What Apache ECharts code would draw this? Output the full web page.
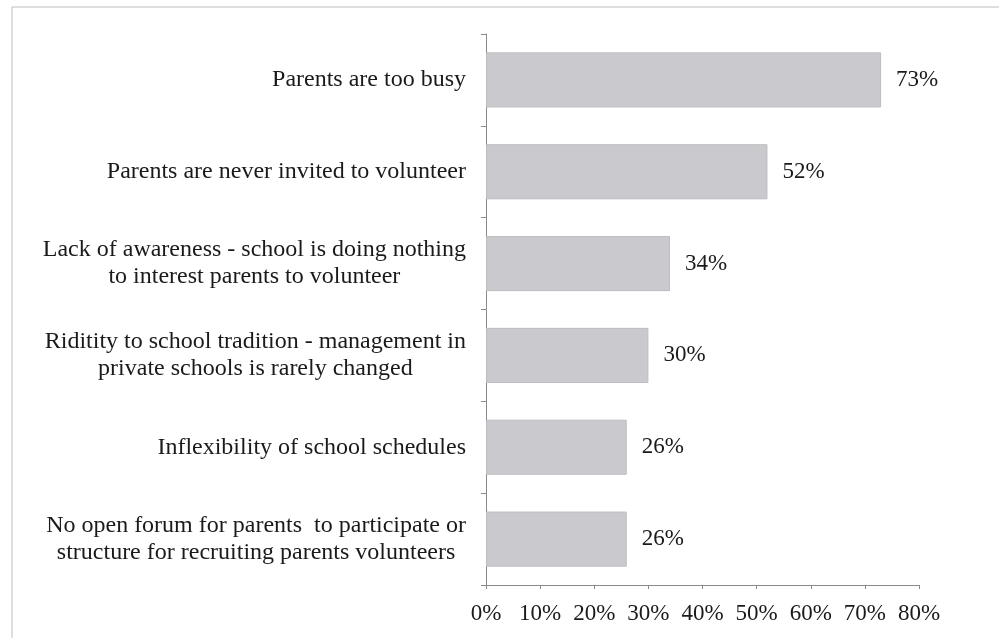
<!DOCTYPE html>
<html>
<head>
<meta charset="utf-8">
<script src="https://cdn.jsdelivr.net/npm/echarts@6/dist/echarts.min.js"></script>
<style>
  html, body { margin: 0; padding: 0; background: #fff; }
  #chart { width: 999px; height: 638px; }
</style>
</head>
<body>
<div id="chart"></div>
<script>
// reasons given, top to bottom
var categories = [
  'Parents are too busy',
  'Parents are never invited to volunteer',
  'Lack of awareness - school is doing nothing\nto interest parents to volunteer',
  'Riditity to school tradition - management in\nprivate schools is rarely changed',
  'Inflexibility of school schedules',
  'No open forum for parents  to participate or\nstructure for recruiting parents volunteers'
];
var percents = [73, 52, 34, 30, 26, 26];

var mychart = echarts.init(document.getElementById('chart'));
var serif = '"Liberation Serif", "Times New Roman", serif';

var option = {
  backgroundColor: '#fff',
  animation: false,
  graphic: [{
    // scanned frame, only left and top edges visible
    type: 'rect',
    shape: { x: 12, y: 7, width: 1100, height: 800 },
    style: { fill: 'none', stroke: '#bdbdbd', lineWidth: 1 },
    silent: true
  }],
  grid: {
    left: 486,
    right: 80,
    top: 34,
    bottom: 53
  },
  xAxis: {
    type: 'value',
    min: 0,
    max: 80,
    interval: 10,
    splitLine: { show: false },
    axisLine: { show: true, lineStyle: { color: '#8a8a8a', width: 1 } },
    axisTick: { show: true, length: 4, lineStyle: { color: '#8a8a8a' } },
    axisLabel: {
      formatter: '{value}%',
      color: '#1a1a1a',
      fontFamily: serif,
      fontSize: 23,
      margin: 17
    }
  },
  yAxis: {
    type: 'category',
    inverse: true,
    data: categories,
    axisLine: { show: true, lineStyle: { color: '#8a8a8a', width: 1 } },
    axisTick: { show: true, length: 5, lineStyle: { color: '#8a8a8a' } },
    axisLabel: {
      margin: 20,
      formatter: function (v) {
        return v.split('\n').map(function (l) { return '{c|' + l + '}'; }).join('\n');
      },
      rich: {
        c: {
          align: 'center',
          color: '#1a1a1a',
          fontFamily: serif,
          fontSize: 24,
          lineHeight: 27
        }
      }
    }
  },
  series: [{
    type: 'bar',
    data: percents,
    barCategoryGap: '40%',
    itemStyle: {
      color: '#cacace',
      borderColor: '#bdbdc1',
      borderWidth: 1
    },
    label: {
      show: true,
      position: 'right',
      distance: 15,
      formatter: '{c}%',
      color: '#1a1a1a',
      fontFamily: serif,
      fontSize: 23
    }
  }]
};

mychart.setOption(option);
</script>
</body>
</html>
